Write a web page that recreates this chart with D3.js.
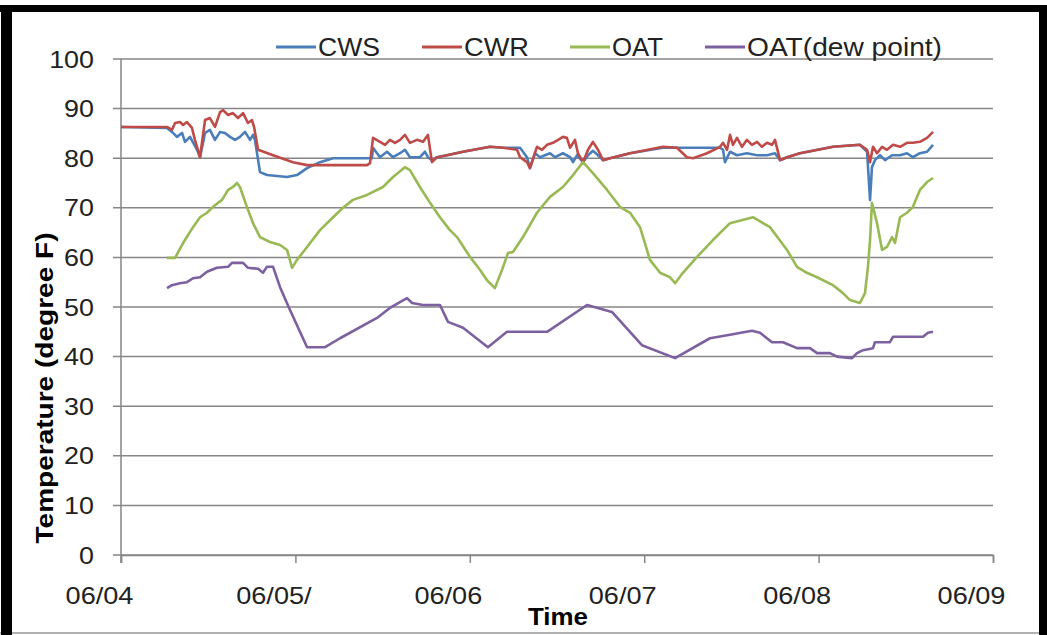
<!DOCTYPE html>
<html>
<head>
<meta charset="utf-8">
<script src="https://cdn.jsdelivr.net/npm/d3@7"></script>
<style>
  body { margin: 0; background: #fff; }
  svg { display: block; font-family: "Liberation Sans", Arial, sans-serif; }
</style>
</head>
<body>
<svg id="chart" width="1047" height="635"></svg>
<script>
// x values are days after 06/04 00:00, y values are degree F
var dayTicks = [0, 1, 2, 3, 4, 5];
var dayLabels = ["06/04", "06/05/", "06/06", "06/07", "06/08", "06/09"];
var tempTicks = [0, 10, 20, 30, 40, 50, 60, 70, 80, 90, 100];

var cws = [[0,86.3],[0.264,86.1],[0.292,85.3],[0.321,84.3],[0.350,85.1],[0.367,83.3],[0.396,84.3],[0.436,81.7],[0.453,80.2],
  [0.482,85.1],[0.510,85.7],[0.539,83.7],[0.568,85.3],[0.596,85.1],[0.625,84.3],[0.654,83.7],[0.682,84.3],[0.711,85.3],
  [0.740,83.7],[0.757,84.7],[0.768,83.7],[0.797,77.2],[0.837,76.6],[0.952,76.2],[1.009,76.6],[1.067,78.0],[1.141,79.2],
  [1.216,80.0],[1.411,80.0],[1.439,80.0],[1.445,82.1],[1.485,80.2],[1.525,81.3],[1.560,80.2],[1.600,81.0],[1.628,81.7],
  [1.657,80.2],[1.714,80.2],[1.743,81.3],[1.760,80.2],[1.783,79.6],[1.812,80.2],[1.869,80.6],[1.961,81.3],[2.116,82.3],
  [2.190,82.1],[2.288,82.1],[2.328,80.2],[2.345,78.0],[2.374,81.0],[2.403,80.2],[2.431,80.6],[2.460,81.0],[2.489,80.2],
  [2.534,81.0],[2.575,80.2],[2.592,79.2],[2.615,80.6],[2.649,79.2],[2.678,80.6],[2.706,81.5],[2.735,80.6],[2.764,79.6],
  [2.804,80.0],[2.919,81.0],[3.108,82.1],[3.188,82.1],[3.435,82.1],[3.452,81.7],[3.463,79.2],[3.492,81.3],[3.532,80.6],
  [3.589,81.0],[3.647,80.6],[3.704,80.6],[3.750,81.0],[3.779,79.6],[3.819,80.2],[3.893,81.0],[4.083,82.3],[4.237,82.7],
  [4.278,81.3],[4.295,71.6],[4.306,78.2],[4.323,79.6],[4.352,80.6],[4.381,79.6],[4.421,80.6],[4.467,80.6],[4.507,81.0],
  [4.541,80.2],[4.581,81.0],[4.622,81.3],[4.656,82.7]];

var cwr = [[0,86.3],[0.264,86.3],[0.292,85.7],[0.310,87.1],[0.338,87.3],[0.356,86.7],[0.378,87.3],[0.407,86.1],[0.424,83.7],
  [0.453,80.2],[0.482,87.7],[0.510,88.1],[0.539,86.3],[0.568,89.3],[0.585,89.7],[0.614,88.7],[0.642,89.1],[0.671,88.1],
  [0.700,89.1],[0.728,87.1],[0.751,87.7],[0.763,86.3],[0.786,81.7],[0.872,80.6],[0.986,79.2],[1.067,78.6],[1.141,78.6],
  [1.411,78.6],[1.428,79.0],[1.445,84.1],[1.485,83.3],[1.514,82.7],[1.542,83.7],[1.571,83.1],[1.600,83.7],[1.628,84.7],
  [1.657,83.1],[1.697,83.7],[1.732,83.3],[1.760,84.7],[1.783,79.2],[1.812,80.2],[1.869,80.6],[1.961,81.3],[2.116,82.3],
  [2.190,82.1],[2.271,81.7],[2.288,80.2],[2.328,79.2],[2.345,78.0],[2.385,82.3],[2.414,81.7],[2.443,82.7],[2.477,83.1],
  [2.506,83.7],[2.534,84.3],[2.557,84.1],[2.575,82.1],[2.603,83.7],[2.620,81.0],[2.649,79.2],[2.678,81.7],[2.706,83.3],
  [2.735,81.7],[2.764,79.6],[2.804,80.0],[2.919,81.0],[3.108,82.3],[3.188,82.1],[3.245,80.2],[3.280,80.0],[3.360,81.0],
  [3.435,82.3],[3.452,83.1],[3.475,81.7],[3.492,84.7],[3.509,82.7],[3.532,84.1],[3.561,82.3],[3.589,83.7],[3.618,82.7],
  [3.647,83.3],[3.675,82.3],[3.704,83.1],[3.733,82.7],[3.750,83.7],[3.779,79.6],[3.819,80.2],[3.893,81.0],[4.083,82.3],
  [4.237,82.7],[4.278,81.7],[4.295,79.2],[4.312,82.3],[4.335,81.0],[4.364,82.3],[4.392,81.7],[4.427,82.7],[4.467,82.3],
  [4.507,83.1],[4.541,83.1],[4.581,83.3],[4.622,84.1],[4.656,85.3]];

var oat = [[0.264,59.9],[0.310,59.9],[0.356,62.9],[0.413,66.1],[0.453,68.1],[0.493,69.0],[0.528,70.2],[0.579,71.6],
  [0.614,73.6],[0.642,74.2],[0.665,75.0],[0.682,74.2],[0.722,70.2],[0.757,66.9],[0.797,64.1],[0.854,63.1],[0.912,62.5],
  [0.952,61.5],[0.981,57.9],[1.009,59.5],[1.067,62.1],[1.141,65.5],[1.216,68.1],[1.273,70.0],[1.330,71.6],[1.411,72.6],
  [1.502,74.2],[1.560,76.2],[1.628,78.2],[1.657,77.6],[1.714,74.2],[1.772,71.0],[1.829,68.1],[1.886,65.5],[1.927,64.1],
  [2.001,60.1],[2.058,57.5],[2.099,55.4],[2.144,53.8],[2.185,57.5],[2.219,60.9],[2.248,61.1],[2.305,64.1],[2.385,69.0],
  [2.460,72.2],[2.534,74.2],[2.592,76.6],[2.649,79.2],[2.706,77.0],[2.787,73.6],[2.861,70.2],[2.919,69.0],[2.976,66.1],
  [3.033,59.5],[3.091,56.9],[3.148,56.0],[3.177,54.8],[3.222,56.9],[3.303,60.1],[3.394,63.5],[3.492,66.9],[3.624,68.1],
  [3.721,66.1],[3.819,61.5],[3.876,58.1],[3.933,56.9],[3.991,56.0],[4.083,54.4],[4.140,52.8],[4.180,51.4],[4.237,50.8],
  [4.266,52.8],[4.283,58.1],[4.295,63.5],[4.306,71.0],[4.335,66.9],[4.364,61.5],[4.392,62.1],[4.421,64.1],[4.438,62.9],
  [4.467,68.1],[4.507,69.0],[4.541,70.2],[4.581,73.6],[4.622,75.2],[4.656,76.0]];

var dew = [[0.264,53.8],[0.292,54.4],[0.338,54.8],[0.378,55.0],[0.413,55.8],[0.453,56.0],[0.493,57.1],[0.550,57.9],
  [0.614,58.1],[0.636,58.9],[0.700,58.9],[0.728,57.9],[0.786,57.7],[0.814,56.9],[0.837,58.1],[0.872,58.1],[0.912,54.0],
  [0.969,49.4],[1.067,41.9],[1.170,41.9],[1.256,43.7],[1.468,47.8],[1.542,49.8],[1.640,51.8],[1.669,50.8],[1.732,50.4],
  [1.829,50.4],[1.875,47.0],[1.961,45.8],[2.104,41.9],[2.213,45.0],[2.443,45.0],[2.672,50.4],[2.815,49.0],[2.987,42.3],
  [3.177,39.7],[3.377,43.7],[3.492,44.4],[3.618,45.2],[3.664,44.8],[3.733,42.9],[3.796,42.9],[3.876,41.7],[3.951,41.7],
  [3.991,40.7],[4.065,40.7],[4.106,40.0],[4.192,39.7],[4.220,40.7],[4.255,41.3],[4.312,41.7],[4.323,42.9],[4.409,42.9],
  [4.427,44.0],[4.599,44.0],[4.627,44.8],[4.656,45.0]];

var seriesNames = ["CWS", "CWR", "OAT", "OAT(dew point)"];
var seriesColors = ["#4a7ebb", "#be4b48", "#98b954", "#7d60a0"];
var seriesData = [cws, cwr, oat, dew];

const svg = d3.select("#chart");
const W = 1047, H = 635;
const plot = {left: 121, right: 993, top: 59, bottom: 555};

// the source picture is a bit wider than tall, so text is stretched sideways
function stretch(sel, k) {
  sel.each(function() {
    const w = this.getComputedTextLength();
    d3.select(this).attr("textLength", w * k).attr("lengthAdjust", "spacingAndGlyphs");
  });
}

// frame around the picture
svg.append("rect").attr("x", 0).attr("y", 0).attr("width", W).attr("height", H).attr("fill", "#fff");
svg.append("line").attr("x1", 0).attr("x2", W).attr("y1", 633).attr("y2", 633).attr("stroke", "#999").attr("stroke-width", 1.5);
svg.append("rect").attr("x", 0).attr("y", 5).attr("width", W).attr("height", 7).attr("fill", "#000");
svg.append("rect").attr("x", 1).attr("y", 5).attr("width", 11).attr("height", H - 5).attr("fill", "#000");
svg.append("rect").attr("x", 1039).attr("y", 5).attr("width", 8).attr("height", H - 5).attr("fill", "#000");

const x = d3.scaleLinear().domain([0, 5]).range([plot.left, plot.right]);
const y = d3.scaleLinear().domain([0, 100]).range([plot.bottom, plot.top]);

// horizontal grid
svg.append("g")
  .selectAll("line").data(tempTicks).join("line")
  .attr("x1", plot.left - 8).attr("x2", plot.right)
  .attr("y1", d => y(d)).attr("y2", d => y(d))
  .attr("stroke", "#868686").attr("stroke-width", 1.5);

// y axis line
svg.append("line").attr("x1", plot.left).attr("x2", plot.left)
  .attr("y1", plot.top).attr("y2", plot.bottom + 8)
  .attr("stroke", "#868686").attr("stroke-width", 1.5);

// y tick labels
svg.append("g")
  .selectAll("text").data(tempTicks).join("text")
  .attr("x", 94).attr("y", d => y(d)).attr("dy", "0.36em")
  .attr("text-anchor", "end").attr("font-size", 24).attr("fill", "#222")
  .text(d => d)
  .call(stretch, 1.12);

// x ticks and labels (labels sit left of their ticks as in the source)
const xAxis = d3.axisBottom(x).tickValues(dayTicks).tickSize(8).tickFormat((d, i) => dayLabels[i]);
const gx = svg.append("g").attr("transform", `translate(0,${plot.bottom})`).call(xAxis);
gx.select(".domain").attr("stroke", "#868686").attr("stroke-width", 1.5);
gx.selectAll(".tick line").attr("stroke", "#868686").attr("stroke-width", 1.5);
gx.selectAll(".tick text")
  .attr("font-family", "Liberation Sans, Arial, sans-serif")
  .attr("font-size", 24).attr("fill", "#222")
  .attr("x", -22).attr("y", 40).attr("dy", "0.36em")
  .call(stretch, 1.13);

// lines
const line = d3.line().x(d => x(d[0])).y(d => y(d[1]));
svg.append("g")
  .selectAll("path").data(seriesData).join("path")
  .attr("d", line)
  .attr("fill", "none")
  .attr("stroke", (d, i) => seriesColors[i])
  .attr("stroke-width", 2.6)
  .attr("stroke-linejoin", "round");

// legend
const legendX = [276, 422, 570, 705];
const legendW = [62, 65, 51, 195];
const leg = svg.append("g").selectAll("g").data(seriesNames).join("g")
  .attr("transform", (d, i) => `translate(${legendX[i]},47)`);
leg.append("line").attr("x1", 0).attr("x2", 40)
  .attr("stroke", (d, i) => seriesColors[i]).attr("stroke-width", 3);
leg.append("text").attr("x", 42).attr("dy", "0.36em")
  .attr("font-size", 25).attr("fill", "#222")
  .attr("textLength", (d, i) => legendW[i]).attr("lengthAdjust", "spacingAndGlyphs")
  .text(d => d);

// axis titles
svg.append("text")
  .attr("transform", "translate(53,388) rotate(-90)")
  .attr("text-anchor", "middle").attr("font-weight", "bold")
  .attr("font-size", 23).attr("fill", "#000")
  .attr("textLength", 311).attr("lengthAdjust", "spacingAndGlyphs")
  .text("Temperature (degree F)");

svg.append("text")
  .attr("x", 558).attr("y", 625)
  .attr("text-anchor", "middle").attr("font-weight", "bold")
  .attr("font-size", 24).attr("fill", "#000")
  .attr("textLength", 60).attr("lengthAdjust", "spacingAndGlyphs")
  .text("Time");
</script>
</body>
</html>
